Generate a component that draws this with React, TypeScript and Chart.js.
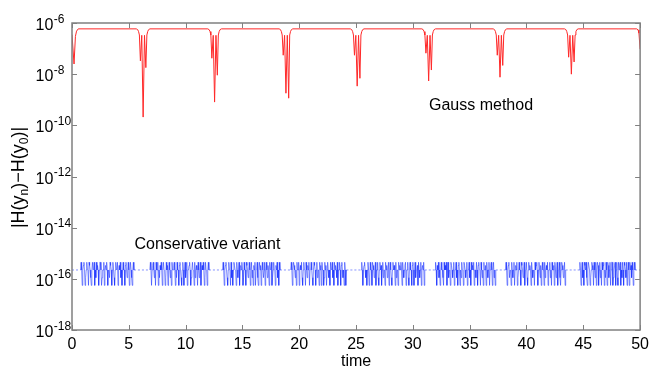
import React, { useEffect, useRef } from "react";
import { Chart, registerables } from "chart.js";

Chart.register(...registerables);

const FONT = '"Liberation Sans", Arial, Helvetica, sans-serif';
const AXIS_COLOR = "#808080";

// x axis
const xTickValues = [0, 5, 10, 15, 20, 25, 30, 35, 40, 45, 50];
// y axis (log) tick exponents
const yExponents = [-18, -16, -14, -12, -10, -8, -6];

// Gauss method: time and |H(yn)-H(y0)|
const redT = [
  0, 0.18, 0.3, 0.4, 0.55,
  5.66, 5.78, 5.86, 5.93, 6.02, 6.14, 6.26, 6.38, 6.5, 6.59, 6.66, 6.74, 6.86,
  11.95, 12.07, 12.15, 12.22, 12.31, 12.43, 12.55, 12.67, 12.79, 12.88, 12.95, 13.03, 13.15,
  18.23, 18.35, 18.43, 18.5, 18.59, 18.71, 18.83, 18.95, 19.07, 19.16, 19.23, 19.31, 19.43,
  24.5, 24.62, 24.7, 24.77, 24.86, 24.98, 25.1, 25.22, 25.34, 25.43, 25.5, 25.58, 25.7,
  30.79, 30.91, 30.99, 31.06, 31.15, 31.27, 31.39, 31.51, 31.63, 31.72, 31.79, 31.87, 31.99,
  37.07, 37.19, 37.27, 37.34, 37.43, 37.55, 37.67, 37.79, 37.91, 38.0, 38.07, 38.15, 38.27,
  43.35, 43.47, 43.55, 43.62, 43.71, 43.83, 43.95, 44.07, 44.19, 44.28, 44.35, 44.43, 44.55,
  49.7, 49.82, 49.9, 50,
];
const redV = [
  3.5e-7, 2.5e-8, 3.0e-7, 4.8e-7, 5.9e-7,
  5.9e-7, 5.5e-7, 4.6e-7, 3.4e-7, 3.3e-8, 3.3e-7, 2.1e-10, 3.3e-7, 1.8e-8, 3.4e-7, 4.6e-7, 5.5e-7, 5.9e-7,
  5.9e-7, 5.5e-7, 4.6e-7, 3.4e-7, 4.2e-8, 3.3e-7, 8.1e-10, 3.3e-7, 9.1e-9, 3.4e-7, 4.6e-7, 5.5e-7, 5.9e-7,
  5.9e-7, 5.5e-7, 4.6e-7, 3.4e-7, 5.5e-8, 3.3e-7, 1.8e-9, 3.3e-7, 1.15e-9, 3.4e-7, 4.6e-7, 5.5e-7, 5.9e-7,
  5.9e-7, 5.5e-7, 4.6e-7, 3.4e-7, 5.5e-8, 3.3e-7, 3.4e-9, 3.3e-7, 6.9e-9, 3.4e-7, 4.6e-7, 5.5e-7, 5.9e-7,
  5.9e-7, 5.5e-7, 4.6e-7, 3.4e-7, 6.6e-8, 3.3e-7, 5.4e-9, 3.3e-7, 1.45e-8, 3.4e-7, 4.6e-7, 5.5e-7, 5.9e-7,
  5.9e-7, 5.5e-7, 4.6e-7, 3.4e-7, 5.5e-8, 3.3e-7, 7.6e-9, 3.3e-7, 2.2e-8, 3.4e-7, 4.6e-7, 5.5e-7, 5.9e-7,
  5.9e-7, 5.5e-7, 4.6e-7, 3.4e-7, 4.6e-8, 3.3e-7, 1.0e-8, 3.3e-7, 3.0e-8, 3.4e-7, 4.6e-7, 5.5e-7, 5.9e-7,
  5.9e-7, 5.4e-7, 4.0e-7, 9.5e-8,
];

// Conservative variant: round-off levels, sampled every blueStep in time
// (each row below = one time unit, 20 samples)
const blueStep = 0.05;
const blueLevels = [5.55e-17, 1.11e-16, 2.22e-16, 3.33e-16, 4.44e-16];
const blueBase = blueLevels[2];
const blueIdx = [
  2,2,2,2,2,2,2,2,2,2,2,2,2,2,2,2,4,2,0,2,
  3,4,2,0,1,2,4,2,2,0,4,3,2,1,0,2,4,2,2,4,
  0,2,1,4,2,3,2,0,2,4,4,2,0,1,2,2,4,0,2,3,
  2,4,2,0,2,2,1,4,3,2,0,2,4,2,1,0,2,4,2,2,
  4,0,2,3,2,4,1,2,0,2,4,2,2,0,3,4,2,1,2,4,
  2,0,2,4,2,1,0,2,4,2,2,2,2,2,2,2,2,2,2,2,
  2,2,2,2,2,2,2,2,2,2,2,2,2,2,2,2,2,2,4,2,
  0,2,3,4,2,1,2,0,4,2,2,4,0,2,1,3,2,4,2,0,
  2,4,2,2,0,1,4,2,3,0,2,4,2,1,2,0,4,2,2,3,
  4,2,0,2,1,4,2,2,0,3,4,2,1,0,2,4,2,0,2,4,
  1,2,4,0,2,2,3,4,2,0,1,2,4,2,2,0,4,1,2,3,
  2,0,4,2,1,2,4,0,2,3,2,4,2,0,1,4,2,2,0,2,
  4,2,2,2,2,2,2,2,2,2,2,2,2,2,2,2,2,2,2,2,
  2,2,2,2,2,2,4,2,0,2,3,4,2,1,0,2,4,2,2,0,
  4,1,2,0,2,4,3,2,2,0,4,2,1,2,4,0,2,3,2,4,
  2,0,1,4,2,2,0,4,3,2,1,2,4,2,0,2,4,1,2,0,
  3,2,4,0,2,2,4,1,0,2,4,2,3,0,2,4,2,1,2,4,
  0,2,4,2,1,3,2,0,4,2,2,4,0,1,2,4,2,2,0,3,
  2,4,1,2,0,4,2,2,2,2,2,2,2,2,2,2,2,2,2,2,
  2,2,2,2,2,2,4,2,0,2,4,3,2,1,2,0,4,2,2,4,
  0,2,3,2,4,1,0,2,4,2,2,0,4,2,1,3,2,4,0,2,
  2,4,2,1,0,2,4,3,2,0,2,4,1,2,2,0,4,2,3,0,
  4,2,2,0,1,4,2,3,0,2,4,2,1,2,0,4,2,2,4,1,
  2,0,4,2,3,2,1,4,0,2,2,4,2,0,3,4,2,1,2,0,
  4,2,0,2,2,2,2,2,2,2,2,2,2,2,2,2,2,2,2,2,
  2,2,2,2,2,2,2,2,2,2,4,2,0,2,3,4,2,1,2,0,
  2,4,2,0,1,4,2,2,0,4,3,2,1,2,4,0,2,2,4,1,
  0,2,4,2,3,0,2,4,1,2,2,0,4,2,3,1,2,4,0,2,
  4,2,1,0,2,4,2,3,2,0,4,1,2,2,0,4,2,3,2,4,
  2,0,4,2,1,2,3,4,0,2,2,4,1,0,2,4,2,2,0,3,
  4,2,0,2,4,1,2,2,3,0,4,2,1,2,4,0,2,3,2,4,
  0,2,2,2,2,2,2,2,2,2,2,2,2,2,2,2,2,2,2,2,
  4,2,0,3,2,4,1,2,0,2,4,2,2,1,0,4,2,3,2,4,
  0,2,4,1,2,2,0,4,3,2,1,2,4,0,2,2,4,1,2,0,
  3,4,2,0,2,1,4,2,2,0,4,3,2,1,2,4,0,2,2,4,
  1,2,0,4,2,3,2,4,0,2,2,1,4,2,0,3,4,2,2,0,
  4,2,1,2,0,4,2,2,3,0,4,2,1,2,4,0,2,3,4,2,
  0,2,4,1,2,0,2,2,2,2,2,2,2,2,2,2,2,2,2,2,
  2,2,2,2,4,2,0,2,3,4,1,2,2,0,4,2,1,2,4,0,
  2,3,2,4,0,1,2,4,2,2,0,4,3,2,1,2,4,0,2,2,
  4,1,0,2,4,2,3,2,0,4,2,1,2,2,0,4,2,3,4,2,
  0,2,4,2,1,3,0,2,4,2,2,0,4,1,2,3,2,4,0,2,
  2,4,1,2,0,4,2,2,3,0,4,2,1,2,4,0,2,2,4,1,
  0,2,4,3,2,1,2,4,0,2,2,2,2,2,2,2,2,2,2,2,
  2,2,2,2,2,2,2,2,2,2,2,2,2,2,4,2,0,2,4,1,
  2,0,4,3,2,4,1,0,2,4,4,2,0,1,2,4,3,2,0,4,
  2,1,4,0,2,4,3,0,2,4,1,2,0,4,2,3,4,0,2,1,
  4,2,0,4,3,1,2,4,0,2,4,4,0,1,2,3,4,0,2,4,
  1,0,4,2,3,4,0,2,1,4,2,0,4,3,2,1,4,0,2,4,
  2,0,4,2,3,1,4,2,0,2,4,2,2,2,2,2,2,2,2,2,
  2,
];

const annotations = [
  { text: "Gauss method", x: 429, y: 110 },
  { text: "Conservative variant", x: 134.5, y: 249 },
];

const decoPlugin = {
  id: "deco",
  afterDraw(chart: any) {
    const { ctx, chartArea: a, scales } = chart;
    const xs = scales.x;
    const ys = scales.y;
    ctx.save();
    // frame
    ctx.strokeStyle = AXIS_COLOR;
    ctx.lineWidth = 1.5;
    ctx.strokeRect(a.left, a.top, a.right - a.left, a.bottom - a.top);
    // inward ticks
    ctx.lineWidth = 1;
    ctx.beginPath();
    for (const v of xTickValues) {
      const px = Math.round(xs.getPixelForValue(v)) + 0.5;
      ctx.moveTo(px, a.bottom);
      ctx.lineTo(px, a.bottom - 5);
      ctx.moveTo(px, a.top);
      ctx.lineTo(px, a.top + 5);
    }
    for (const e of yExponents) {
      const py = Math.round(ys.getPixelForValue(Math.pow(10, e))) + 0.5;
      ctx.moveTo(a.left, py);
      ctx.lineTo(a.left + 5, py);
      ctx.moveTo(a.right, py);
      ctx.lineTo(a.right - 5, py);
    }
    ctx.stroke();

    // y tick labels 10^e
    ctx.fillStyle = "#000";
    ctx.textAlign = "left";
    ctx.textBaseline = "alphabetic";
    for (const e of yExponents) {
      const py = ys.getPixelForValue(Math.pow(10, e));
      ctx.font = `16px ${FONT}`;
      ctx.fillText("10", 35.5, py + 7);
      const w = ctx.measureText("10").width;
      ctx.font = `12px ${FONT}`;
      ctx.fillText(String(e), 35.5 + w + 0.5, py - 0.5);
    }

    // annotations
    ctx.font = `16px ${FONT}`;
    for (const an of annotations) ctx.fillText(an.text, an.x, an.y);

    // y axis title |H(y_n)-H(y_0)|
    const parts: [string, boolean][] = [
      ["|H(y", false],
      ["n", true],
      [")\u2212H(y", false],
      ["0", true],
      [")|", false],
    ];
    const big = `18px ${FONT}`;
    const small = `12px ${FONT}`;
    let total = 0;
    const widths = parts.map(([t, sub]) => {
      ctx.font = sub ? small : big;
      const w = ctx.measureText(t).width;
      total += w;
      return w;
    });
    ctx.translate(24, (a.top + a.bottom) / 2 + 1);
    ctx.rotate(-Math.PI / 2);
    let cx = -total / 2;
    parts.forEach(([t, sub], i) => {
      ctx.font = sub ? small : big;
      ctx.fillText(t, cx, sub ? 4 : 0);
      cx += widths[i];
    });
    ctx.restore();
  },
};

export default function App() {
  const ref = useRef<HTMLCanvasElement | null>(null);
  useEffect(() => {
    document.body.style.margin = "0";
    const canvas = ref.current;
    if (!canvas) return;
    const redData = redT.map((t, i) => ({ x: t, y: redV[i] }));
    const blueData = blueIdx.map((k, i) => ({ x: i * blueStep, y: blueLevels[k] }));
    const chart = new Chart(canvas, {
      type: "line",
      data: {
        datasets: [
          {
            data: redData,
            borderColor: "rgb(255,40,40)",
            borderWidth: 1,
            pointRadius: 0,
            tension: 0,
          },
          {
            data: blueData,
            borderColor: "rgba(20,45,255,0.9)",
            borderWidth: 0.6,
            pointRadius: 0,
            tension: 0,
            segment: {
              borderDash: (c: any) =>
                c.p0.parsed.y === blueBase && c.p1.parsed.y === blueBase ? [2, 2] : undefined,
            },
          },
        ],
      },
      options: {
        animation: false,
        responsive: false,
        events: [],
        layout: { padding: { top: 23, right: 12, left: 0, bottom: 0 } },
        plugins: { legend: { display: false }, tooltip: { enabled: false } },
        scales: {
          x: {
            type: "linear",
            min: 0,
            max: 50,
            grid: { display: false, drawTicks: false },
            border: { display: false },
            ticks: {
              stepSize: 5,
              color: "#000",
              padding: 5,
              maxRotation: 0,
              font: { family: FONT, size: 16 },
            },
            title: {
              display: true,
              text: "time",
              color: "#000",
              font: { family: FONT, size: 16 },
              padding: { top: 0, bottom: 11 },
            },
            afterFit: (s: any) => {
              s.height = 52;
            },
          },
          y: {
            type: "logarithmic",
            min: 1e-18,
            max: 1e-6,
            grid: { display: false, drawTicks: false },
            border: { display: false },
            ticks: { display: false },
            afterBuildTicks: (s: any) => {
              s.ticks = yExponents.map((e) => ({ value: Math.pow(10, e) }));
            },
            afterFit: (s: any) => {
              s.width = 72;
            },
          },
        },
      },
      plugins: [decoPlugin],
    } as any);
    return () => chart.destroy();
  }, []);
  return (
    <div style={{ width: 654, height: 382 }}>
      <canvas ref={ref} width={654} height={382} />
    </div>
  );
}
